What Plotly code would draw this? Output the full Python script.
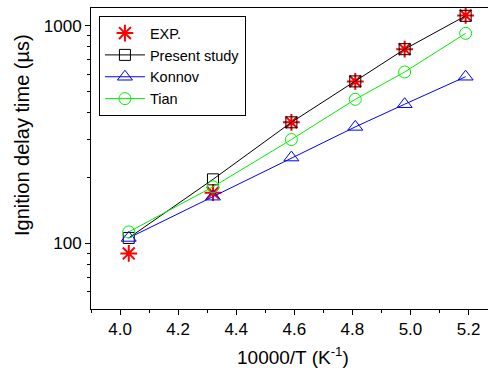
import plotly.graph_objects as go

x_vals = [4.03, 4.32, 4.59, 4.81, 4.98, 5.19]
exp_vals = [90, 171, 360, 555, 780, 1115]
present_vals = [106, 197, 360, 555, 780, 1110]
konnov_vals = [106, 164, 248, 343, 436, 583]
tian_vals = [113, 182, 300, 459, 613, 922]

x_ticks = [4.0, 4.2, 4.4, 4.6, 4.8, 5.0, 5.2]
x_tick_labels = ["4.0", "4.2", "4.4", "4.6", "4.8", "5.0", "5.2"]
y_ticks = [100, 1000]
y_tick_labels = ["100", "1000"]

font = "Liberation Sans, Arial, sans-serif"

fig = go.Figure()
fig.add_trace(go.Scatter(x=x_vals, y=exp_vals, name="EXP.", mode="markers",
                         marker=dict(symbol="asterisk-open", size=14, color="red",
                                     line=dict(color="red", width=2))))
fig.add_trace(go.Scatter(x=x_vals, y=present_vals, name="Present study", mode="lines+markers",
                         line=dict(color="black", width=1),
                         marker=dict(symbol="square-open", size=11, color="black",
                                     line=dict(color="black", width=1))))
fig.add_trace(go.Scatter(x=x_vals, y=konnov_vals, name="Konnov", mode="lines+markers",
                         line=dict(color="blue", width=1),
                         marker=dict(symbol="triangle-up-open", size=13, color="blue",
                                     line=dict(color="blue", width=1))))
fig.add_trace(go.Scatter(x=x_vals, y=tian_vals, name="Tian", mode="lines+markers",
                         line=dict(color="#00ee00", width=1),
                         marker=dict(symbol="circle-open", size=12, color="#00ee00",
                                     line=dict(color="#00ee00", width=1))))

fig.update_layout(
    width=488, height=374,
    margin=dict(l=91, r=0, t=8, b=65),
    paper_bgcolor="white", plot_bgcolor="white",
    font=dict(family=font, size=16, color="black"),
    showlegend=True,
    legend=dict(x=0.02, y=0.973, xanchor="left", yanchor="top",
                bordercolor="black", borderwidth=1, bgcolor="white",
                font=dict(size=14.5), tracegroupgap=0, itemwidth=40),
    xaxis=dict(range=[3.9, 5.267], showgrid=False, zeroline=False,
               showline=True, linecolor="black", linewidth=1, mirror=True,
               ticks="outside", ticklen=5, tickcolor="black",
               tickvals=x_ticks, ticktext=x_tick_labels, tickfont=dict(size=17),
               minor=dict(tickvals=[3.9, 4.1, 4.3, 4.5, 4.7, 4.9, 5.1], ticks="outside",
                          ticklen=3, tickcolor="black", showgrid=False)),
    yaxis=dict(type="log", range=[1.699, 3.0813], showgrid=False, zeroline=False,
               showline=True, linecolor="black", linewidth=1, mirror=False,
               ticks="outside", ticklen=5, tickcolor="black",
               tickvals=y_ticks, ticktext=y_tick_labels, tickfont=dict(size=17),
               minor=dict(tickvals=[60, 70, 80, 90, 200, 300, 400, 500, 600, 700, 800, 900],
                          ticks="outside", ticklen=3, tickcolor="black", showgrid=False)),
    annotations=[
        dict(text="10000/T (K<sup>-1</sup>)", xref="paper", yref="paper",
             x=0.51, y=-0.156, xanchor="center", yanchor="middle",
             showarrow=False, font=dict(size=19)),
        dict(text="Ignition delay time (µs)", xref="paper", yref="paper",
             x=-0.174, y=0.578, xanchor="center", yanchor="middle", textangle=-90,
             showarrow=False, font=dict(size=20)),
    ],
)

fig.write_html("out.html")
